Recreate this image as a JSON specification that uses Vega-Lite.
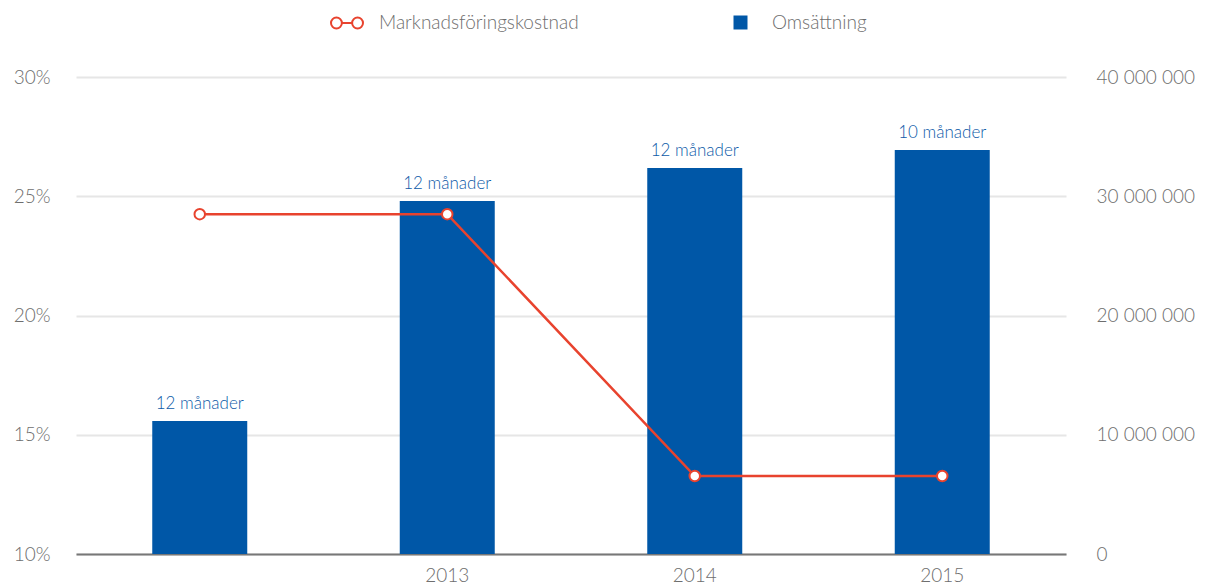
{
  "$schema": "https://vega.github.io/schema/vega-lite/v6.json",
  "width": 990,
  "height": 477,
  "autosize": {"type": "none"},
  "padding": {"left": 76, "top": 77, "right": 139, "bottom": 34},
  "background": "white",
  "config": {
    "view": {"stroke": null},
    "font": "Lato",
    "axis": {"labelFont": "Lato", "labelColor": "#6e6e6e", "labelFontSize": 19, "labelFontWeight": 300, "ticks": false, "domain": false, "grid": false, "title": null},
    "legend": {"labelFont": "Lato", "labelColor": "#6e6e6e", "labelFontSize": 19, "labelFontWeight": 300, "padding": 0, "labelLimit": 400}
  },
  "data": {
    "values": [
      {"year": "2012", "pct": 24.25, "revenue": 11150000, "label": "12 månader"},
      {"year": "2013", "pct": 24.25, "revenue": 29600000, "label": "12 månader"},
      {"year": "2014", "pct": 13.27, "revenue": 32370000, "label": "12 månader"},
      {"year": "2015", "pct": 13.27, "revenue": 33880000, "label": "10 månader"}
    ]
  },
  "encoding": {
    "x": {
      "field": "year",
      "type": "ordinal",
      "scale": {"paddingInner": 0, "paddingOuter": 0},
      "axis": {
        "labelAngle": 0,
        "domain": true,
        "domainColor": "#777777",
        "domainWidth": 2,
        "labelPadding": 12,
        "labelExpr": "datum.value == '2012' ? '' : datum.label"
      }
    }
  },
  "layer": [
    {
      "layer": [
        {
          "mark": {"type": "bar", "size": 95},
          "encoding": {
            "y": {
              "field": "revenue",
              "type": "quantitative",
              "scale": {"domain": [0, 40000000]},
              "axis": {
                "orient": "right",
                "values": [0, 10000000, 20000000, 30000000, 40000000],
                "labelPadding": 30,
                "labelExpr": "replace(format(datum.value, ','), regexp(',', 'g'), ' ')"
              }
            },
            "fill": {
              "datum": "Omsättning",
              "type": "nominal",
              "scale": {"range": ["#0057a7"]},
              "legend": {
                "title": null,
                "orient": "none",
                "legendX": 655,
                "legendY": -64,
                "symbolType": "square",
                "symbolSize": 196,
                "symbolStrokeWidth": 0,
                "labelOffset": 22
              }
            }
          }
        },
        {
          "mark": {"type": "text", "dy": -12, "baseline": "alphabetic", "fontSize": 17, "fontWeight": 300, "color": "#0d5aa8", "font": "Lato"},
          "encoding": {
            "y": {"field": "revenue", "type": "quantitative"},
            "text": {"field": "label"}
          }
        }
      ]
    },
    {
      "layer": [
        {
          "mark": {"type": "line", "strokeWidth": 2.5},
          "encoding": {
            "y": {
              "field": "pct",
              "type": "quantitative",
              "scale": {"domain": [10, 30]},
              "axis": {
                "orient": "left",
                "values": [10, 15, 20, 25, 30],
                "grid": true,
                "gridColor": "#e6e6e6",
                "gridWidth": 2,
                "labelPadding": 26,
                "labelExpr": "datum.value + '%'"
              }
            },
            "stroke": {
              "datum": "Marknadsföringskostnad",
              "type": "nominal",
              "scale": {"range": ["#e8432e"]},
              "legend": {
                "title": null,
                "orient": "none",
                "legendX": 254,
                "legendY": -71,
                "symbolType": "M -1 0 A 0.34 0.34 0 1 0 -0.32 0 A 0.34 0.34 0 1 0 -1 0 Z M -0.32 0 L 0.32 0 M 0.32 0 A 0.34 0.34 0 1 0 1 0 A 0.34 0.34 0 1 0 0.32 0 Z",
                "symbolSize": 1024,
                "symbolFillColor": "white",
                "symbolStrokeWidth": 2,
                "labelOffset": 15
              }
            }
          }
        },
        {
          "mark": {"type": "point", "filled": true, "fill": "white", "stroke": "#e8432e", "strokeWidth": 2, "size": 110, "opacity": 1},
          "encoding": {
            "y": {"field": "pct", "type": "quantitative"}
          }
        }
      ]
    }
  ],
  "resolve": {"scale": {"y": "independent"}}
}
